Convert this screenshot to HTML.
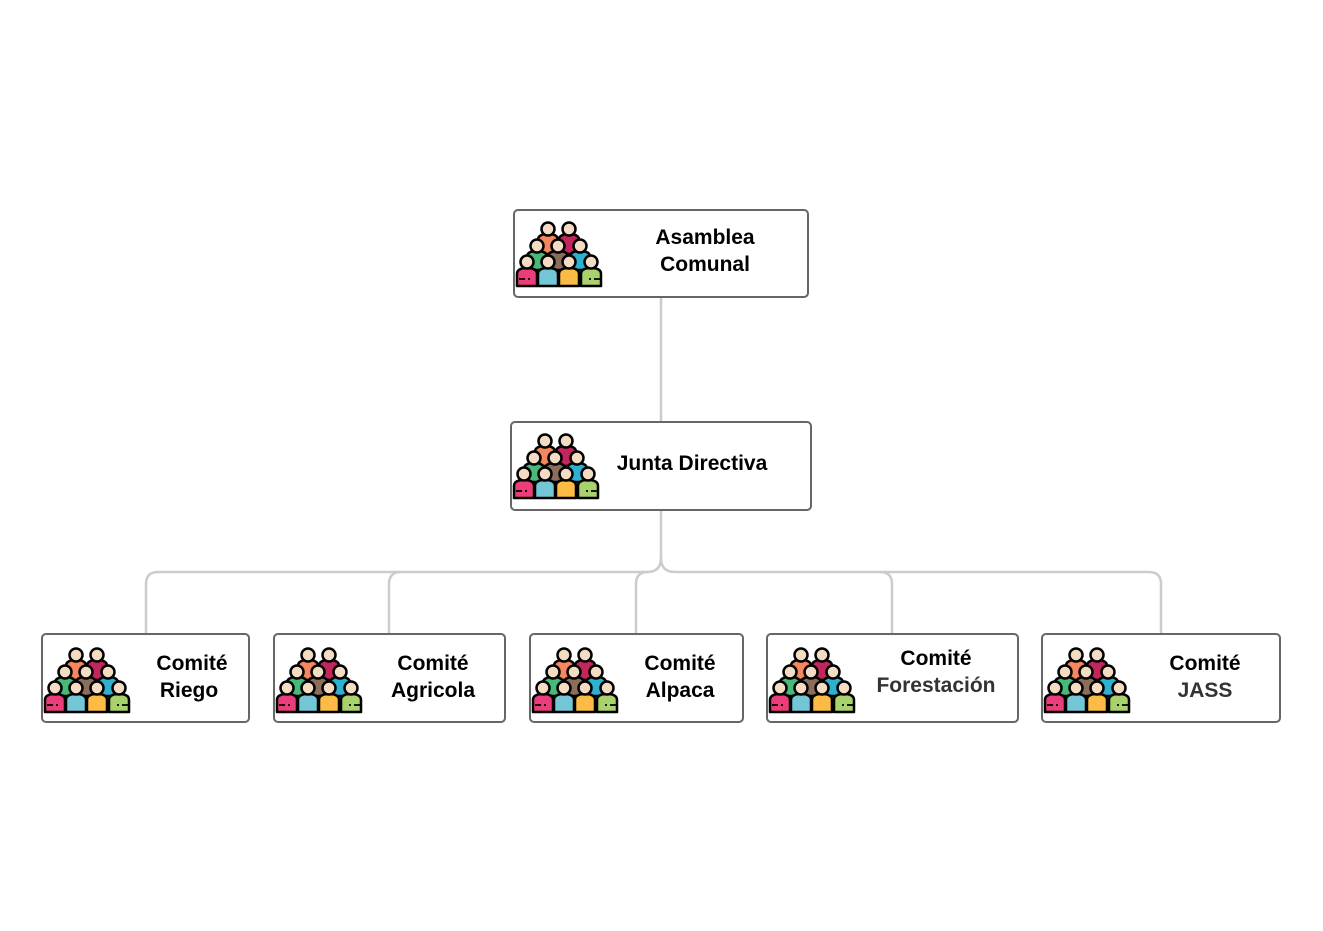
<!DOCTYPE html>
<html><head><meta charset="utf-8"><style>
html,body{margin:0;padding:0;background:#fff;width:1323px;height:931px;overflow:hidden;}
svg{display:block}
text{font-family:"Liberation Sans",sans-serif;font-weight:bold;font-size:21px;fill:#000}
</style></head><body>
<svg width="1323" height="931" viewBox="0 0 1323 931" xmlns="http://www.w3.org/2000/svg">
<defs>
<g id="ic" stroke="#000" stroke-width="2.5" stroke-linejoin="round">
  <path d="M22,34 V20 Q22,14 32,14 Q42,14 42,20 V34 Z" fill="#f4875c"/>
  <path d="M43,34 V20 Q43,14 53,14 Q63,14 63,20 V34 Z" fill="#c2265a"/>
  <circle cx="32" cy="9" r="6.5" fill="#f4dcc4"/>
  <circle cx="53" cy="9" r="6.5" fill="#f4dcc4"/>
  <path d="M11,50 V37 Q11,31 21,31 Q31,31 31,37 V50 Z" fill="#49b97a"/>
  <path d="M32,50 V37 Q32,31 42,31 Q52,31 52,37 V50 Z" fill="#8b6d5c"/>
  <path d="M54,50 V37 Q54,31 64,31 Q74,31 74,37 V50 Z" fill="#2fb0d0"/>
  <circle cx="21" cy="26" r="6.5" fill="#f4dcc4"/>
  <circle cx="42" cy="26" r="6.5" fill="#f4dcc4"/>
  <circle cx="64" cy="26" r="6.5" fill="#f4dcc4"/>
  <path d="M1,66 V54 Q1,48 11,48 Q21,48 21,54 V66 Z" fill="#ea3d7a"/>
  <path d="M22,66 V54 Q22,48 32,48 Q42,48 42,54 V66 Z" fill="#72c6d6"/>
  <path d="M43,66 V54 Q43,48 53,48 Q63,48 63,54 V66 Z" fill="#fbbb44"/>
  <path d="M65,66 V54 Q65,48 75,48 Q85,48 85,54 V66 Z" fill="#a9d16c"/>
  <circle cx="11" cy="42" r="6.5" fill="#f4dcc4"/>
  <circle cx="32" cy="42" r="6.5" fill="#f4dcc4"/>
  <circle cx="53" cy="42" r="6.5" fill="#f4dcc4"/>
  <circle cx="75" cy="42" r="6.5" fill="#f4dcc4"/>
  <path d="M3,59 H9 M12,59 H14 M73,59 H75 M78,59 H84" fill="none" stroke-width="1.8"/>
</g>
</defs>
<g fill="none" stroke="#cccccc" stroke-width="2.5">
  <path d="M661,297 V422"/>
  <path d="M661,510 V558 Q661,572 647,572 H158 Q146,572 146,584 V634"/>
  <path d="M661,558 Q661,572 675,572 H1149 Q1161,572 1161,584 V634"/>
  <path d="M401,572 Q389,572 389,584 V634"/>
  <path d="M648,572 Q636,572 636,584 V634"/>
  <path d="M880,572 Q892,572 892,584 V634"/>
</g>
<g fill="#fff" stroke="#666" stroke-width="2">
  <rect x="514" y="210" width="294" height="87" rx="4"/>
  <rect x="511" y="422" width="300" height="88" rx="4"/>
  <rect x="42" y="634" width="207" height="88" rx="4"/>
  <rect x="274" y="634" width="231" height="88" rx="4"/>
  <rect x="530" y="634" width="213" height="88" rx="4"/>
  <rect x="767" y="634" width="251" height="88" rx="4"/>
  <rect x="1042" y="634" width="238" height="88" rx="4"/>
</g>
<use href="#ic" x="516" y="220"/>
<use href="#ic" x="513" y="432"/>
<use href="#ic" x="44" y="646"/>
<use href="#ic" x="276" y="646"/>
<use href="#ic" x="532" y="646"/>
<use href="#ic" x="769" y="646"/>
<use href="#ic" x="1044" y="646"/>
<g text-anchor="middle">
  <text x="705" y="244">Asamblea</text>
  <text x="705" y="271">Comunal</text>
  <text x="692" y="470">Junta Directiva</text>
  <text x="192" y="670">Comité</text>
  <text x="189" y="697">Riego</text>
  <text x="433" y="670">Comité</text>
  <text x="433" y="697">Agricola</text>
  <text x="680" y="670">Comité</text>
  <text x="680" y="697">Alpaca</text>
  <text x="936" y="665">Comité</text>
  <text x="936" y="692" style="fill:#333">Forestación</text>
  <text x="1205" y="670">Comité</text>
  <text x="1205" y="697" style="fill:#333">JASS</text>
</g>
</svg>
</body></html>
